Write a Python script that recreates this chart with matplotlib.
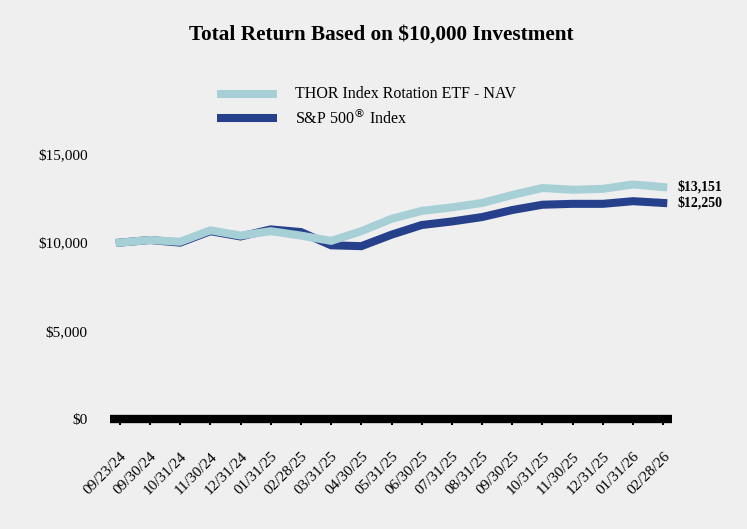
import matplotlib.pyplot as plt
from matplotlib.ticker import FuncFormatter

# data
dates = ["09/23/24", "09/30/24", "10/31/24", "11/30/24", "12/31/24", "01/31/25",
         "02/28/25", "03/31/25", "04/30/25", "05/31/25", "06/30/25", "07/31/25",
         "08/31/25", "09/30/25", "10/31/25", "11/30/25", "12/31/25", "01/31/26",
         "02/28/26"]
thor_nav = [10000, 10150, 10050, 10700, 10400, 10650, 10400, 10100, 10650, 11350,
            11800, 12000, 12250, 12700, 13100, 13000, 13050, 13300, 13151]
sp500 = [10000, 10150, 10000, 10650, 10350, 10750, 10600, 9850, 9800, 10450,
         11000, 11200, 11450, 11850, 12150, 12200, 12200, 12350, 12250]
series_names = ["THOR Index Rotation ETF - NAV", "S&P 500$^{®}$ Index"]
end_labels = ["$13,151", "$12,250"]

BG = "#efefef"
LIGHT = "#a7d0d6"
DARK = "#26408c"

plt.rcParams['font.family'] = ['Liberation Serif', 'DejaVu Serif']

fig = plt.figure(figsize=(7.47, 5.29), dpi=100, facecolor=BG)
ax = fig.add_axes([0.147, 0.208, 0.753, 0.50], facecolor=BG)

x = list(range(len(dates)))
ax.plot(x, sp500, color=DARK, lw=5.8, solid_joinstyle='miter', zorder=2)
ax.plot(x, thor_nav, color=LIGHT, lw=5.8, solid_joinstyle='miter', zorder=3)

ax.set_xlim(-0.33, len(dates) - 1 + 0.3)
ax.set_ylim(0, 15000)
ax.set_yticks([0, 5000, 10000, 15000])
ax.yaxis.set_major_formatter(FuncFormatter(lambda v, p: f"${v:,.0f}"))
ax.tick_params(axis='y', length=0, pad=16, labelsize=11)

ax.set_xticks(x)
ax.set_xticklabels(dates, rotation=45, ha='right', rotation_mode='anchor', fontsize=11)
ax.tick_params(axis='x', length=4, width=1.5, pad=18, direction='out')

for s in ['top', 'right', 'left']:
    ax.spines[s].set_visible(False)
ax.spines['bottom'].set_linewidth(6)
ax.spines['bottom'].set_capstyle('butt')

# end value labels
ax.annotate(end_labels[0], xy=(x[-1], thor_nav[-1]), xytext=(10, 0),
            textcoords='offset points', va='center', fontsize=10, fontweight='bold')
ax.annotate(end_labels[1], xy=(x[-1], sp500[-1]), xytext=(10, 0),
            textcoords='offset points', va='center', fontsize=10, fontweight='bold')

fig.text(0.51, 0.934, "Total Return Based on $10,000 Investment", ha='center', va='center',
         fontsize=15.3, fontweight='bold')

# legend drawn by hand in figure coordinates
for i, (name, col) in enumerate(zip(series_names, [LIGHT, DARK])):
    yy = 0.823 - i * 0.047
    fig.add_artist(plt.Line2D([0.2905, 0.3708], [yy, yy], color=col, lw=5.8,
                              solid_capstyle='butt', transform=fig.transFigure))
    fig.text(0.395, yy, name, va='center', fontsize=11.5)

fig.savefig("out.png", dpi=100, facecolor=BG)
